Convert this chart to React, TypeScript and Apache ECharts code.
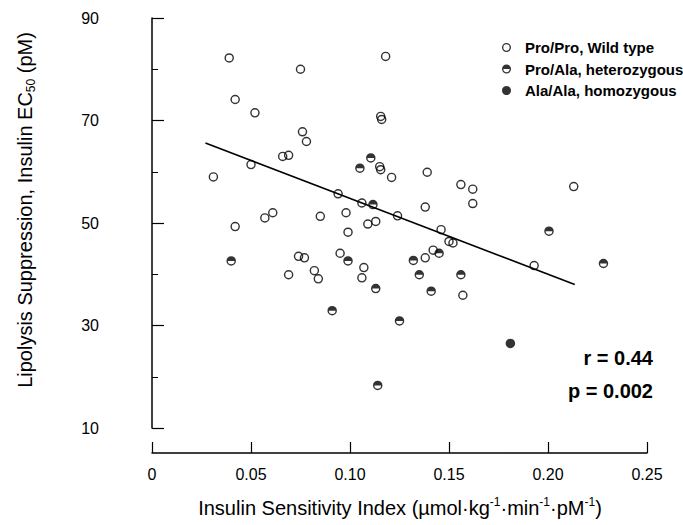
import React, { useEffect, useRef } from "react";
import * as echarts from "echarts";

const xTicks = [0, 0.05, 0.1, 0.15, 0.2, 0.25];
const yTicks = [10, 30, 50, 70, 90];

const seriesNames = ["Pro/Pro, Wild type", "Pro/Ala, heterozygous", "Ala/Ala, homozygous"];

const wildType: [number, number][] = [
  [0.039, 82.2], [0.075, 80.0], [0.042, 74.1], [0.052, 71.5], [0.076, 67.8],
  [0.078, 65.9], [0.066, 63.0], [0.069, 63.2], [0.05, 61.4], [0.031, 59.0],
  [0.061, 52.0], [0.057, 51.0], [0.042, 49.3], [0.085, 51.3], [0.118, 82.5],
  [0.1155, 70.8], [0.116, 70.2], [0.115, 61.0], [0.1155, 60.4], [0.121, 58.9],
  [0.139, 59.9], [0.156, 57.5], [0.162, 56.6], [0.162, 53.8], [0.138, 53.1],
  [0.094, 55.7], [0.106, 53.9], [0.124, 51.4], [0.098, 52.0], [0.109, 49.8],
  [0.113, 50.3], [0.099, 48.2], [0.146, 48.7], [0.15, 46.4], [0.152, 46.1],
  [0.142, 44.7], [0.138, 43.2], [0.095, 44.1], [0.074, 43.5], [0.077, 43.2],
  [0.082, 40.7], [0.084, 39.1], [0.107, 41.3], [0.106, 39.3], [0.157, 35.9],
  [0.069, 39.9], [0.213, 57.1], [0.193, 41.7],
];

const heterozygous: [number, number][] = [
  [0.1105, 62.7], [0.105, 60.7], [0.1116, 53.6], [0.145, 44.1], [0.132, 42.7],
  [0.099, 42.6], [0.113, 37.2], [0.135, 39.9], [0.141, 36.7], [0.156, 39.9],
  [0.091, 32.9], [0.125, 30.9], [0.114, 18.3], [0.04, 42.6], [0.2005, 48.4],
  [0.228, 42.1],
];

const homozygous: [number, number][] = [[0.181, 26.5]];

const fitLine: [number, number][] = [[0.027, 65.6], [0.2135, 38.0]];

const stats = ["r = 0.44", "p = 0.002"];

const FONT = "'Liberation Sans', Arial, Helvetica, sans-serif";

const RING =
  "path://M0,-1 A1,1 0 1,1 0,1 A1,1 0 1,1 0,-1 Z M0,-0.7 A0.7,0.7 0 1,0 0,0.7 A0.7,0.7 0 1,0 0,-0.7 Z";
const HALF =
  "path://M-1,0 A1,1 0 0,1 1,0 Z M1,0 A1,1 0 0,1 -1,0 L-0.7,0 A0.7,0.7 0 0,0 0.7,0 Z";

export default function App() {
  const ref = useRef<HTMLDivElement>(null);

  useEffect(() => {
    document.body.style.margin = "0";
    if (!ref.current) return;
    const chart = echarts.init(ref.current, undefined, { renderer: "svg" });
    chart.setOption({
      animation: false,
      backgroundColor: "#fff",
      textStyle: { fontFamily: FONT, color: "#000" },
      grid: { left: 152, right: 36, top: 18, bottom: 97 },
      xAxis: {
        type: "value",
        min: xTicks[0],
        max: xTicks[xTicks.length - 1],
        interval: 0.05,
        offset: 25,
        splitLine: { show: false },
        axisLine: { lineStyle: { color: "#000", width: 1.5 } },
        axisTick: { inside: true, length: 11, lineStyle: { color: "#000", width: 1.2 } },
        axisLabel: {
          fontSize: 16,
          color: "#000",
          fontFamily: FONT,
          margin: 13,
          formatter: (v: number) => (v === 0 ? "0" : v.toFixed(2)),
        },
      },
      yAxis: {
        type: "value",
        min: yTicks[0],
        max: yTicks[yTicks.length - 1],
        interval: 20,
        offset: 29,
        splitLine: { show: false },
        axisLine: { lineStyle: { color: "#000", width: 1.5 } },
        axisTick: { inside: true, length: 12, lineStyle: { color: "#000", width: 1.2 } },
        minorTick: { show: true, splitNumber: 2, length: 6, lineStyle: { color: "#000", width: 1 } },
        axisLabel: { fontSize: 16, color: "#000", fontFamily: FONT, margin: 24 },
      },
      legend: {
        orient: "vertical",
        left: 497,
        top: 35,
        itemWidth: 9,
        itemHeight: 9,
        itemGap: 6.5,
        data: seriesNames,
        textStyle: {
          fontSize: 15,
          fontWeight: "bold",
          color: "#000",
          fontFamily: FONT,
          padding: [0, 0, 0, 9],
        },
      },
      series: [
        {
          type: "line",
          data: fitLine,
          symbol: "none",
          silent: true,
          lineStyle: { color: "#000", width: 1.6 },
          z: 1,
        },
        {
          type: "scatter",
          name: seriesNames[0],
          data: wildType,
          symbol: RING,
          symbolSize: 9.5,
          itemStyle: { color: "#000" },
          z: 3,
        },
        {
          type: "scatter",
          name: seriesNames[1],
          data: heterozygous,
          symbol: HALF,
          symbolSize: 9.5,
          itemStyle: { color: "#000" },
          z: 3,
        },
        {
          type: "scatter",
          name: seriesNames[2],
          data: homozygous,
          symbol: "circle",
          symbolSize: 9.5,
          itemStyle: { color: "#000" },
          z: 3,
        },
      ],
      graphic: [
        {
          type: "text",
          x: 400,
          y: 508,
          style: {
            text: "Insulin Sensitivity Index (µmol·kg{sup|-1}·min{sup|-1}·pM{sup|-1})",
            fontSize: 20,
            fontFamily: FONT,
            fill: "#000",
            align: "center",
            verticalAlign: "middle",
            lineHeight: 25,
            rich: {
              sup: { fontSize: 12, lineHeight: 12, verticalAlign: "top", fill: "#000", fontFamily: FONT },
            },
          },
        },
        {
          type: "text",
          x: 25,
          y: 210,
          rotation: Math.PI / 2,
          style: {
            text: "Lipolysis Suppression, Insulin EC{sub|50} (pM)",
            fontSize: 20,
            fontFamily: FONT,
            fill: "#000",
            align: "center",
            verticalAlign: "middle",
            lineHeight: 23,
            rich: {
              sub: { fontSize: 12, lineHeight: 12, verticalAlign: "bottom", fill: "#000", fontFamily: FONT },
            },
          },
        },
        {
          type: "text",
          x: 653,
          y: 358,
          style: {
            text: stats[0],
            fontSize: 20,
            fontWeight: "bold",
            fontFamily: FONT,
            fill: "#000",
            align: "right",
            verticalAlign: "middle",
          },
        },
        {
          type: "text",
          x: 653,
          y: 391,
          style: {
            text: stats[1],
            fontSize: 20,
            fontWeight: "bold",
            fontFamily: FONT,
            fill: "#000",
            align: "right",
            verticalAlign: "middle",
          },
        },
      ],
    });
    return () => chart.dispose();
  }, []);

  return <div ref={ref} style={{ width: 683, height: 525 }} />;
}
